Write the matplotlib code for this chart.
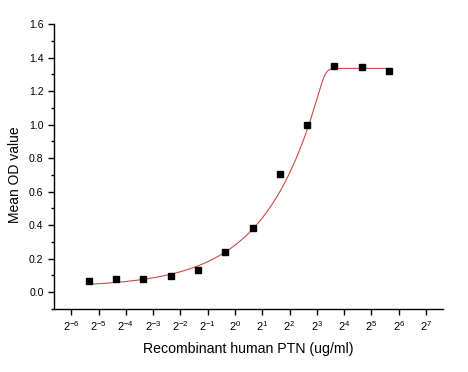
import matplotlib
matplotlib.use("Agg")
import matplotlib.pyplot as plt
import numpy as np
from matplotlib.ticker import MultipleLocator

plt.rcParams['font.family'] = ['Liberation Sans', 'DejaVu Sans']
plt.rcParams['mathtext.fontset'] = 'custom'
plt.rcParams['mathtext.rm'] = 'Liberation Sans'
plt.rcParams['mathtext.it'] = 'Liberation Sans:italic'

# concentrations (ug/ml), twofold dilutions from 50
conc = [0.0244, 0.0488, 0.0977, 0.195, 0.391, 0.781, 1.5625, 3.125, 6.25, 12.5, 25, 50]
od = [0.069, 0.081, 0.078, 0.097, 0.131, 0.242, 0.384, 0.704, 0.997, 1.351, 1.341, 1.317]

tick_exp = list(range(-6, 8))

# fit parameters (Richards curve in log2 of concentration)
bottom, top = 0.03, 1.335
rate, shape, center = 12.0, 24.0, 3.3

fig = plt.figure(figsize=(4.68, 3.72), dpi=100)
ax = fig.add_axes([0.1154, 0.1694, 0.8312, 0.7661])

t = np.linspace(np.log2(conc[0]), np.log2(conc[-1]), 600)
fit = bottom + (top - bottom) * (1 + np.exp(-rate * (t - center))) ** (-1 / shape)
ax.plot(2 ** t, fit, color='#d04848', lw=0.8, zorder=2)
ax.plot(conc, od, 's', color='black', markersize=5, zorder=3)

ax.set_xscale('log', base=2)
ax.set_xlim(2 ** -6.63, 2 ** 7.62)
ax.set_ylim(-0.1, 1.6)
ax.set_xticks([2.0 ** k for k in tick_exp])
ax.set_xticklabels([f"$2^{{{k}}}$" for k in tick_exp])
ax.xaxis.set_minor_locator(matplotlib.ticker.NullLocator())
ax.yaxis.set_major_locator(MultipleLocator(0.2))
ax.yaxis.set_minor_locator(MultipleLocator(0.1))
ax.yaxis.set_major_formatter(matplotlib.ticker.FormatStrFormatter('%.1f'))

ax.spines['top'].set_visible(False)
ax.spines['right'].set_visible(False)
for s in ['left', 'bottom']:
    ax.spines[s].set_linewidth(1.0)
ax.tick_params(axis='both', which='major', direction='out', length=4, width=1.0, labelsize=7.6)
ax.tick_params(axis='x', which='major', labelsize=8)
ax.tick_params(axis='y', which='minor', direction='out', length=2.5, width=1.0)

ax.set_xlabel("Recombinant human PTN (ug/ml)", fontsize=10.2, labelpad=6)
ax.set_ylabel("Mean OD value", fontsize=10)
ax.yaxis.set_label_coords(-0.082, 0.47)

fig.savefig("out.png", dpi=100)
